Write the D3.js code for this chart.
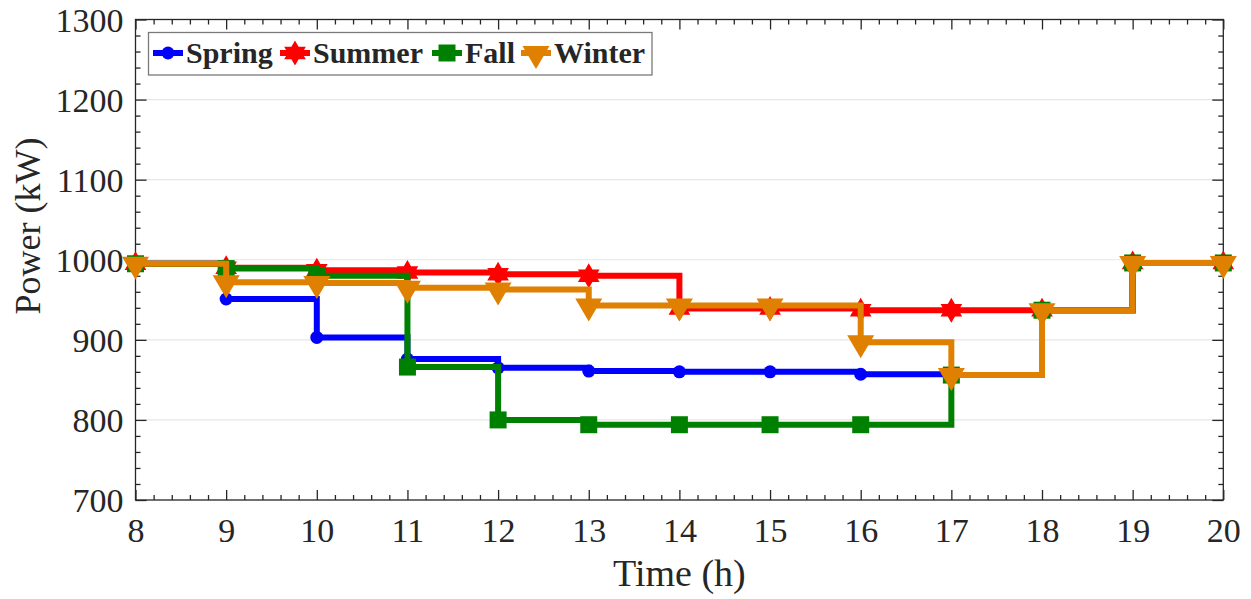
<!DOCTYPE html>
<html>
<head>
<meta charset="utf-8">
<script src="https://cdn.jsdelivr.net/npm/d3@7"></script>
<style>
  body { margin: 0; background: #fff; }
  svg { display: block; }
  text { font-family: "Liberation Serif", "Times New Roman", serif; fill: #262626; }
</style>
</head>
<body>
<div id="chart"></div>
<script>
// 1: DATA
const hours = [8, 9, 10, 11, 12, 13, 14, 15, 16, 17, 18, 19, 20];
const spring = [995, 951, 903, 876, 865, 861, 860, 860, 857, 856, 937, 996, 996];
const summer = [995, 990, 987, 984, 982, 980, 939, 939, 937, 937, 937, 996, 996];
const fall   = [995, 989, 980, 866, 800, 794, 794, 794, 794, 856, 937, 996, 996];
const winter = [995, 972, 971, 965, 963, 943, 943, 943, 897, 856, 937, 996, 996];
const seasonNames = ["Spring", "Summer", "Fall", "Winter"];
const seasonColors = ["#0000ff", "#ff0000", "#008000", "#df8000"];
const xTicks = [8, 9, 10, 11, 12, 13, 14, 15, 16, 17, 18, 19, 20];
const yTicks = [700, 800, 900, 1000, 1100, 1200, 1300];

// 2: GLOBAL SIZES
const W = 1251, H = 599;
const margin = { top: 19.5, right: 27.7, bottom: 99, left: 135.5 };
const width = W - margin.left - margin.right;
const height = H - margin.top - margin.bottom;

const svg = d3.select("#chart")
    .append("svg")
    .attr("width", W)
    .attr("height", H);

const g = svg.append("g")
    .attr("transform", `translate(${margin.left},${margin.top})`);

// 3: SCALES
const xScale = d3.scaleLinear().domain([8, 20]).range([0, width]);
const yScale = d3.scaleLinear().domain([700, 1300]).range([height, 0]);

const series = [spring, summer, fall, winter].map((vals, i) => ({
    name: seasonNames[i],
    color: seasonColors[i],
    values: hours.map((h, j) => ({ h, v: vals[j] }))
}));

// 4: GRID
g.append("g")
    .selectAll("line")
    .data(yTicks.slice(1, -1))
    .enter()
    .append("line")
    .attr("x1", 0)
    .attr("x2", width)
    .attr("y1", d => yScale(d))
    .attr("y2", d => yScale(d))
    .attr("stroke", "#e6e6e6")
    .attr("stroke-width", 1.2);

// 5: AXES (ticks point inward, on all four sides)
const minorX = d3.range(8, 20.001, 0.2).filter(d => Math.abs(d - Math.round(d)) > 1e-6);
const minorY = d3.range(700, 1300.1, 20).filter(d => d % 100 !== 0);

function styleAxis(sel) {
    sel.select(".domain").remove();
    sel.selectAll(".tick line").attr("stroke", "#262626").attr("stroke-width", 1.3);
}

g.append("g").attr("transform", `translate(0,${height})`)
    .call(d3.axisBottom(xScale).tickValues(minorX).tickSize(-5).tickFormat(""))
    .call(styleAxis);
g.append("g")
    .call(d3.axisTop(xScale).tickValues(minorX).tickSize(-5).tickFormat(""))
    .call(styleAxis);
g.append("g")
    .call(d3.axisTop(xScale).tickValues(xTicks).tickSize(-10).tickFormat(""))
    .call(styleAxis);
g.append("g").call(d3.axisLeft(yScale).tickValues(minorY).tickSize(-5).tickFormat(""))
    .call(styleAxis);
g.append("g").attr("transform", `translate(${width},0)`)
    .call(d3.axisRight(yScale).tickValues(minorY).tickSize(-5).tickFormat(""))
    .call(styleAxis);
g.append("g").attr("transform", `translate(${width},0)`)
    .call(d3.axisRight(yScale).tickValues(yTicks).tickSize(-11).tickFormat(""))
    .call(styleAxis);

const xAxis = g.append("g").attr("transform", `translate(0,${height})`)
    .call(d3.axisBottom(xScale).tickValues(xTicks).tickSize(-10).tickFormat(d3.format("d")))
    .call(styleAxis);
xAxis.selectAll(".tick text")
    .attr("y", 42)
    .attr("dy", 0)
    .style("font-size", "34px")
    .attr("fill", "#262626");

const yAxis = g.append("g")
    .call(d3.axisLeft(yScale).tickValues(yTicks).tickSize(-11).tickFormat(d3.format("d")))
    .call(styleAxis);
yAxis.selectAll(".tick text")
    .attr("x", -12)
    .attr("dy", "0.34em")
    .style("font-size", "34px")
    .attr("fill", "#262626");

g.append("rect")
    .attr("width", width)
    .attr("height", height)
    .attr("fill", "none")
    .attr("stroke", "#262626")
    .attr("stroke-width", 1.3);

// 6: LINES + MARKERS
const line = d3.line()
    .x(d => xScale(d.h))
    .y(d => yScale(d.v))
    .curve(d3.curveStepAfter);

const hexagram = (() => {
    const r = 12.5, pts = [];
    for (let k = 0; k < 12; k++) {
        const a = -Math.PI / 2 + k * Math.PI / 6;
        const rr = k % 2 === 0 ? r : r * 0.577;
        pts.push([rr * Math.cos(a), rr * Math.sin(a)]);
    }
    return "M" + pts.map(p => p.join(",")).join("L") + "Z";
})();
const markerPath = {
    Spring: d3.symbol(d3.symbolCircle, Math.PI * 6.5 * 6.5)(),
    Summer: hexagram,
    Fall: "M-8.5,-8.5H8.5V8.5H-8.5Z",
    Winter: "M-13.5,-7L13.5,-7L0,16Z"
};

series.forEach(s => {
    const sg = g.append("g");
    sg.append("path")
        .attr("d", line(s.values))
        .attr("fill", "none")
        .attr("stroke", s.color)
        .attr("stroke-width", 6)
        .attr("stroke-linejoin", "miter");

    sg.selectAll(".marker")
        .data(s.values)
        .enter()
        .append("path")
        .attr("class", "marker")
        .attr("transform", d => `translate(${xScale(d.h)},${yScale(d.v)})`)
        .attr("d", markerPath[s.name])
        .attr("fill", s.color);
});

// 7: AXIS LABELS
svg.append("text")
    .attr("x", margin.left + width / 2)
    .attr("y", 586)
    .attr("text-anchor", "middle")
    .style("font-size", "38px")
    .text("Time (h)");

svg.append("text")
    .attr("transform", "translate(40,226) rotate(-90)")
    .attr("text-anchor", "middle")
    .style("font-size", "36px")
    .text("Power (kW)");

// 8: LEGEND
const legend = svg.append("g");
legend.append("rect")
    .attr("x", 148.5)
    .attr("y", 32.5)
    .attr("width", 503.5)
    .attr("height", 42.5)
    .attr("fill", "#fff")
    .attr("stroke", "#7a7a7a")
    .attr("stroke-width", 1.3);

const legendX = [153, 280, 432, 521];
series.forEach((s, i) => {
    const lg = legend.append("g").attr("transform", `translate(${legendX[i]},53)`);
    lg.append("line")
        .attr("x1", 0).attr("x2", 30)
        .attr("stroke", s.color)
        .attr("stroke-width", 6);
    lg.append("path")
        .attr("transform", "translate(15,0)")
        .attr("d", markerPath[s.name])
        .attr("fill", s.color);
    lg.append("text")
        .attr("x", 33)
        .attr("y", 10)
        .style("font-size", "30px")
        .style("font-weight", "bold")
        .attr("fill", "#000")
        .text(s.name);
});
</script>
</body>
</html>
